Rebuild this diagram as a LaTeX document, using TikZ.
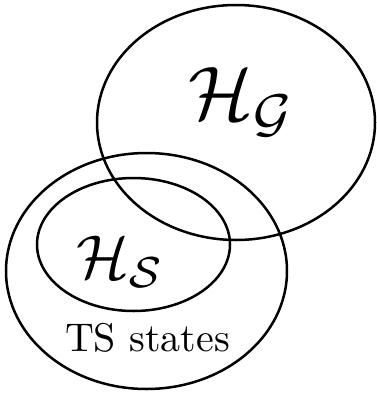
\documentclass[tikz,border=0pt]{standalone}
\usepackage{amsmath,amssymb}
\usepackage{tikz}
\usetikzlibrary{positioning}

\begin{document}
\begin{tikzpicture}[x=1pt,y=-1pt,line width=2.5pt]
  \useasboundingbox (0,0) rectangle (377,399);
  \draw (236,122.5) ellipse [x radius=139,y radius=117.5];
  \draw (146.5,271) ellipse [x radius=140.5,y radius=118];
  \draw (133.5,244.5) ellipse [x radius=96.5,y radius=66.5];
  \node[scale=7.6] (hg) at (242,102) {$\mathcal{H}_{\mathcal{G}}$};
  \node[scale=6.2] (hs) at (121,262) {$\mathcal{H}_{\mathcal{S}}$};
  \node[scale=4] (ts) at (147.5,338) {TS states};
\end{tikzpicture}
\end{document}
